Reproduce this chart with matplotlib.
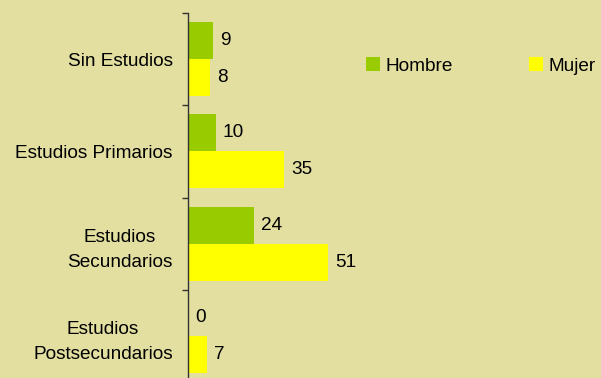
import numpy as np
import matplotlib
matplotlib.use('Agg')
import matplotlib.pyplot as plt

categories = ['Sin Estudios', 'Estudios Primarios', 'Estudios\nSecundarios', 'Estudios\nPostsecundarios']
hombre = [9, 10, 24, 0]
mujer = [8, 35, 51, 7]

BG = '#E3DFA1'
GREEN = '#99CC00'
YELLOW = '#FFFF00'
FS = 13.7

plt.rcParams['font.family'] = ['Liberation Sans', 'DejaVu Sans']

fig = plt.figure(figsize=(6.01, 3.78), dpi=100, facecolor=BG)
ax = fig.add_axes([188 / 601, -4 / 378, 165 / 601, 369 / 378])
ax.set_facecolor(BG)

y = np.arange(len(categories))
h = 0.4
b1 = ax.barh(y - h / 2, hombre, height=h, color=GREEN, label='Hombre')
b2 = ax.barh(y + h / 2, mujer, height=h, color=YELLOW, label='Mujer')

for bars, vals in ((b1, hombre), (b2, mujer)):
    for bar, v in zip(bars, vals):
        ax.annotate(str(v), (v, bar.get_y() + bar.get_height() / 2),
                    xytext=(5, 0), textcoords='offset points',
                    va='center', ha='left', fontsize=FS)

ax.set_xlim(0, 60)
ax.set_ylim(len(categories) - 0.5, -0.5)

# category labels at centers, tick marks at the boundaries
ax.set_yticks(y)
ax.set_yticklabels(categories, fontsize=FS, multialignment='center', linespacing=1.65)
ax.tick_params(axis='y', which='major', length=0, pad=11)
ax.set_yticks(np.arange(-0.5, len(categories)), minor=True)
ax.tick_params(axis='y', which='minor', length=4.5, width=1, color='#333333', direction='out')
ax.set_xticks([])

for s in ('top', 'right', 'bottom'):
    ax.spines[s].set_visible(False)
ax.spines['left'].set_color('#333333')
ax.spines['left'].set_linewidth(1)

fig.legend(handles=[b1, b2], loc='center left', ncol=2, frameon=False,
           bbox_to_anchor=(366 / 601, 1 - 66 / 378), borderaxespad=0, borderpad=0,
           fontsize=FS, handlelength=0.72, handleheight=0.72, handletextpad=0.3,
           columnspacing=4.0)

fig.savefig('out.png', dpi=100, facecolor=BG)
